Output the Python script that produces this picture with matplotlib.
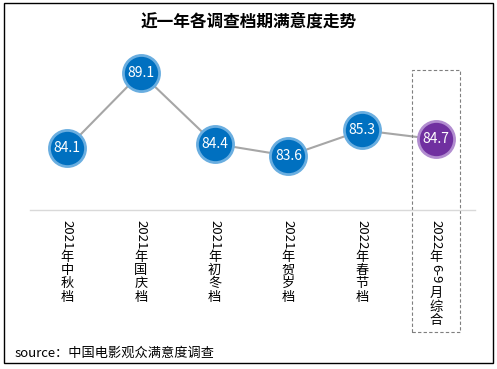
import matplotlib.pyplot as plt
from matplotlib.patches import Rectangle

plt.rcParams['font.family'] = ['Noto Sans CJK SC', 'DejaVu Sans']

# 数据
periods = ['2021年中秋档', '2021年国庆档', '2021年初冬档', '2021年贺岁档', '2022年春节档', '2022年 6-9月综合']
scores = [84.1, 89.1, 84.4, 83.6, 85.3, 84.7]

W, H = 497, 369
fig = plt.figure(figsize=(W / 100, H / 100), dpi=100)
ax = fig.add_axes([30 / W, (H - 210) / H, 445 / W, 170 / H])

x = list(range(len(scores)))
ax.plot(x, scores, color='#A6A6A6', linewidth=1.5, zorder=1)

for i, v in enumerate(scores):
    last = i == len(scores) - 1
    face = '#7030A0' if last else '#0070C0'
    edge = '#B28DD0' if last else '#6AAEE0'
    ax.plot(i, v, 'o', markersize=26, markerfacecolor=face, markeredgecolor=edge,
            markeredgewidth=2, zorder=2)
    ax.text(i, v, f'{v:.1f}', ha='center', va='center', color='white', fontsize=10, zorder=3)

ax.set_xlim(-0.501, 5.528)
ax.set_ylim(80, 91.3)
ax.set_xticks(x)
ax.set_xticklabels([])
ax.tick_params(axis='x', length=0)
ax.set_yticks([])
for s in ['top', 'left', 'right']:
    ax.spines[s].set_visible(False)
ax.spines['bottom'].set_color('#D9D9D9')
ax.spines['bottom'].set_linewidth(1)

# 竖排类别标签：数字旋转，汉字直立
fs = 9.5
for i, lab in enumerate(periods):
    off = 7.5  # 单位：点
    run = ''
    chars = list(lab) + [None]
    for ch in chars:
        if ch is not None and ch.isascii():
            run += ch
            continue
        if run.strip():
            ax.annotate(run.strip(), xy=(i, 0), xycoords=('data', 'axes fraction'),
                        xytext=(0, -off), textcoords='offset points', rotation=-90,
                        ha='center', va='top', fontsize=fs, annotation_clip=False)
            off += sum(0.36 * fs if c == '-' else 0.57 * fs for c in run.strip())
        if run.startswith(' ') or run.endswith(' '):
            off += 0.25 * fs
        run = ''
        if ch is None:
            break
        ax.annotate(ch, xy=(i, 0), xycoords=('data', 'axes fraction'),
                    xytext=(0, -off), textcoords='offset points',
                    ha='center', va='top', fontsize=fs, annotation_clip=False)
        off += 1.02 * fs

# 虚线框
ax.add_patch(Rectangle((4.675, 71.9), 0.65, 17.4, fill=False, linestyle=(0, (3, 2)),
                       edgecolor='#7F7F7F', linewidth=0.8, clip_on=False))

# 标题和来源
fig.text(0.5, 1 - 22 / H, '近一年各调查档期满意度走势', ha='center', va='center',
         fontsize=12, fontweight='bold')
fig.text(15 / W, 1 - 353 / H, 'source：中国电影观众满意度调查', ha='left', va='center', fontsize=9.5)

# 外框
fig.add_artist(Rectangle((4 / W, 6 / H), 489 / W, 360 / H, transform=fig.transFigure,
                         fill=False, edgecolor='black', linewidth=1))

fig.savefig('out.png', dpi=100)
